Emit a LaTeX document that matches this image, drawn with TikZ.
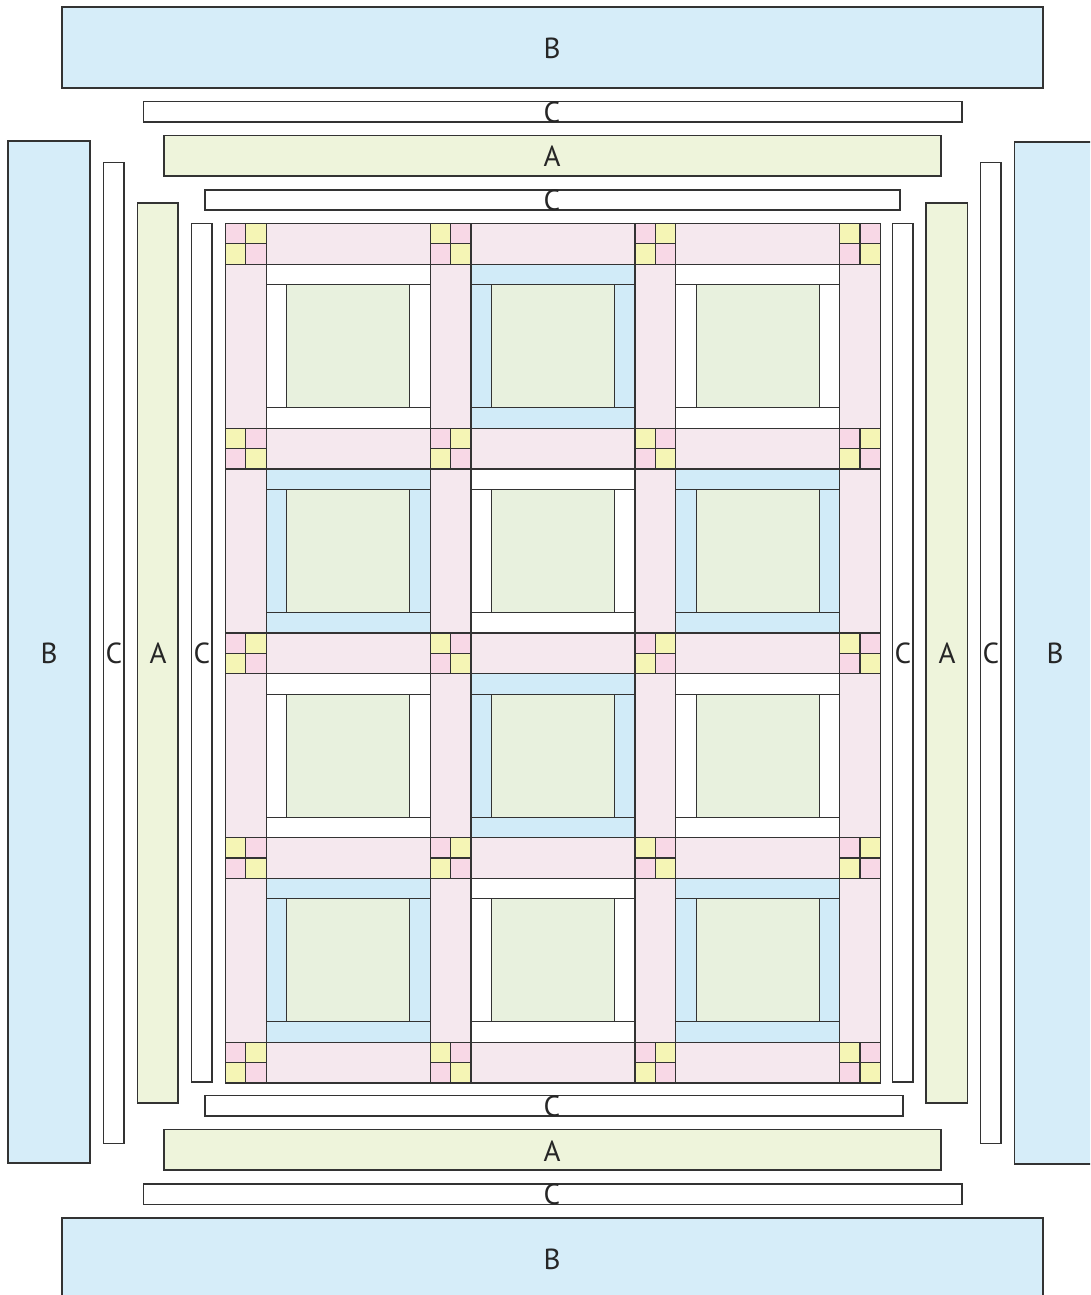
\documentclass[tikz,border=0pt]{standalone}
\usepackage{fontspec}
\setmainfont{PT Sans}
\definecolor{bblue}{HTML}{D6EDF9}
\definecolor{agreen}{HTML}{EEF4DB}
\definecolor{sash}{HTML}{F5E8EE}
\definecolor{cgreen}{HTML}{E8F1DE}
\definecolor{sblue}{HTML}{D1EBF8}
\definecolor{sqpink}{HTML}{F8D8E6}
\definecolor{sqyellow}{HTML}{F5F5B5}
\definecolor{edge}{HTML}{333333}
\tikzset{
  piece/.style={draw=edge, line width=1.2pt},
  lbl/.style={font=\fontsize{29}{29}\selectfont, text=black!85, inner sep=0pt}
}
\begin{document}
\begin{tikzpicture}[x=1pt,y=-1pt]
\clip (0,0) rectangle (1090,1295);
\fill[white] (0,0) rectangle (1090,1295);
% outer borders: top
\filldraw[piece, fill=bblue] (62,7) rectangle (1043,88);
\filldraw[piece, fill=white] (143.5,101.5) rectangle (962,122);
\filldraw[piece, fill=agreen] (164,135.5) rectangle (941,176);
\filldraw[piece, fill=white] (205,190) rectangle (900,210);
% bottom
\filldraw[piece, fill=white] (205,1095.7) rectangle (903,1116);
\filldraw[piece, fill=agreen] (164,1129.5) rectangle (941,1170);
\filldraw[piece, fill=white] (143.5,1184) rectangle (962,1204.3);
\filldraw[piece, fill=bblue] (62,1218) rectangle (1043,1310);
% left
\filldraw[piece, fill=bblue] (8,141) rectangle (90,1163);
\filldraw[piece, fill=white] (103.5,162.5) rectangle (124,1143.5);
\filldraw[piece, fill=agreen] (137.5,203) rectangle (178,1103);
\filldraw[piece, fill=white] (191.5,223.5) rectangle (212,1082);
% right
\filldraw[piece, fill=white] (892.5,223.5) rectangle (913,1082);
\filldraw[piece, fill=agreen] (926,203) rectangle (967.5,1103);
\filldraw[piece, fill=white] (980.5,162.5) rectangle (1001,1143.5);
\filldraw[piece, fill=bblue] (1014.5,142) rectangle (1100,1164);
% quilt centre
\def\X{225.5}\def\Y{223.5}\def\S{40.7}\def\P{204.7}\def\W{20.5}\def\Bk{164}
% sashing squares (four-patches)
\foreach \i in {0,...,4}{
  \foreach \j in {0,...,3}{
    \pgfmathsetmacro\xa{\X+\j*\P}
    \pgfmathsetmacro\ya{\Y+\i*\P}
    \pgfmathsetmacro\xm{\xa+\S/2}
    \pgfmathsetmacro\ym{\ya+\S/2}
    \pgfmathsetmacro\xb{\xa+\S}
    \pgfmathsetmacro\yb{\ya+\S}
    \pgfmathtruncatemacro\m{mod(\i+\j,2)}
    \ifnum\m=0 \def\ca{sqpink}\def\cb{sqyellow}\else\def\ca{sqyellow}\def\cb{sqpink}\fi
    \filldraw[piece, fill=\ca] (\xa,\ya) rectangle (\xm,\ym);
    \filldraw[piece, fill=\cb] (\xm,\ya) rectangle (\xb,\ym);
    \filldraw[piece, fill=\cb] (\xa,\ym) rectangle (\xm,\yb);
    \filldraw[piece, fill=\ca] (\xm,\ym) rectangle (\xb,\yb);
  }
}
% horizontal sashes
\foreach \i in {0,...,4}{
  \foreach \j in {0,...,2}{
    \pgfmathsetmacro\xa{\X+\j*\P+\S}
    \pgfmathsetmacro\ya{\Y+\i*\P}
    \pgfmathsetmacro\xb{\X+(\j+1)*\P}
    \pgfmathsetmacro\yb{\ya+\S}
    \filldraw[piece, fill=sash] (\xa,\ya) rectangle (\xb,\yb);
  }
}
% vertical sashes
\foreach \i in {0,...,3}{
  \foreach \j in {0,...,3}{
    \pgfmathsetmacro\xa{\X+\j*\P}
    \pgfmathsetmacro\ya{\Y+\i*\P+\S}
    \pgfmathsetmacro\xb{\xa+\S}
    \pgfmathsetmacro\yb{\Y+(\i+1)*\P}
    \filldraw[piece, fill=sash] (\xa,\ya) rectangle (\xb,\yb);
  }
}
% blocks
\foreach \i in {0,...,3}{
  \foreach \j in {0,...,2}{
    \pgfmathsetmacro\bx{\X+\j*\P+\S}
    \pgfmathsetmacro\by{\Y+\i*\P+\S}
    \pgfmathsetmacro\bxw{\bx+\W}
    \pgfmathsetmacro\byw{\by+\W}
    \pgfmathsetmacro\bxe{\bx+\Bk}
    \pgfmathsetmacro\bye{\by+\Bk}
    \pgfmathsetmacro\bxi{\bx+\Bk-\W}
    \pgfmathsetmacro\byi{\by+\Bk-\W}
    \pgfmathtruncatemacro\m{mod(\i+\j,2)}
    \ifnum\m=0 \def\cs{white}\else\def\cs{sblue}\fi
    \filldraw[piece, fill=\cs] (\bx,\by) rectangle (\bxe,\byw);
    \filldraw[piece, fill=\cs] (\bx,\byi) rectangle (\bxe,\bye);
    \filldraw[piece, fill=\cs] (\bx,\byw) rectangle (\bxw,\byi);
    \filldraw[piece, fill=\cs] (\bxi,\byw) rectangle (\bxe,\byi);
    \filldraw[piece, fill=cgreen] (\bxw,\byw) rectangle (\bxi,\byi);
  }
}
% labels
\node[lbl] (bt) at (552,48) {B};
\node[lbl] (ct1) at (552,112) {C};
\node[lbl] (at) at (552,156) {A};
\node[lbl] (ct2) at (552,200) {C};
\node[lbl] (cb2) at (552,1106) {C};
\node[lbl] (ab) at (552,1151) {A};
\node[lbl] (cb1) at (552,1194) {C};
\node[lbl] (bb) at (552,1259) {B};
\node[lbl] (bl) at (49,653) {B};
\node[lbl] (cl1) at (114,653) {C};
\node[lbl] (al) at (158,653) {A};
\node[lbl] (cl2) at (202,653) {C};
\node[lbl] (cr2) at (903,653) {C};
\node[lbl] (ar) at (947,653) {A};
\node[lbl] (cr1) at (991,653) {C};
\node[lbl] (br) at (1055,653) {B};
\end{tikzpicture}
\end{document}
